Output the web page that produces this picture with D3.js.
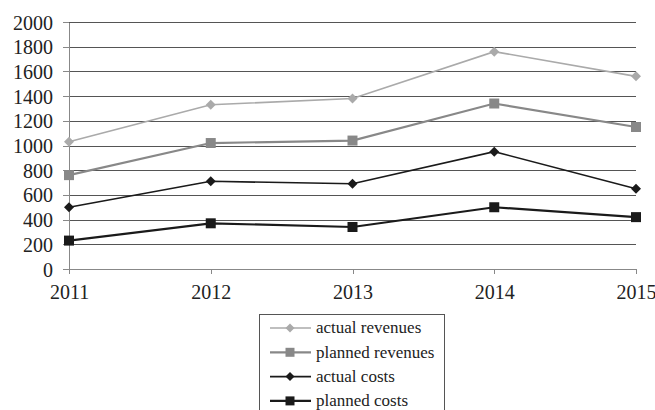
<!DOCTYPE html>
<meta charset="utf-8">
<style>
body { margin: 0; background: #fff; }
svg text { font-family: "Liberation Serif", "DejaVu Serif", serif; fill: #222; }
.grid line { stroke: #555; stroke-width: 1px; shape-rendering: crispEdges; }
.grid path { stroke-width: 0; }
.axis path, .axis line { stroke: #888; stroke-width: 1px; shape-rendering: crispEdges; }
.axis text { font-size: 20px; }
.series { fill: none; }
</style>
<body>
<script src="https://d3js.org/d3.v7.min.js"></script>
<script>
// data
var years = [2011, 2012, 2013, 2014, 2015];
var actualRevenues  = [1030, 1330, 1380, 1760, 1560];
var plannedRevenues = [760, 1020, 1040, 1340, 1150];
var actualCosts     = [500, 710, 690, 950, 650];
var plannedCosts    = [230, 370, 340, 500, 420];
var yTicks = [0, 200, 400, 600, 800, 1000, 1200, 1400, 1600, 1800, 2000];

var series = [
  {name: "actual revenues",  values: actualRevenues,  color: "#aaaaaa", width: 1.6, shape: "diamond", size: 9},
  {name: "planned revenues", values: plannedRevenues, color: "#888888", width: 2.2, shape: "square",  size: 10},
  {name: "actual costs",     values: actualCosts,     color: "#1a1a1a", width: 1.6, shape: "diamond", size: 9},
  {name: "planned costs",    values: plannedCosts,    color: "#1a1a1a", width: 2.2, shape: "square",  size: 10}
];

var W = 655, H = 410;
var margin = {top: 22, right: 19, bottom: 141, left: 69},
    width = W - margin.left - margin.right,
    height = H - margin.top - margin.bottom;

var x = d3.scalePoint().domain(years).range([0, width]);
var y = d3.scaleLinear().domain([0, 2000]).range([height, 0]);

var svg = d3.select("body").append("svg")
    .attr("width", W).attr("height", H)
  .append("g")
    .attr("transform", "translate(" + margin.left + "," + margin.top + ")");

// horizontal gridlines
svg.append("g")
    .attr("class", "grid")
    .call(d3.axisLeft(y).tickValues(yTicks).tickSize(-width).tickFormat(""));

// y axis
svg.append("g")
    .attr("class", "axis")
    .call(d3.axisLeft(y).tickValues(yTicks).tickFormat(d3.format("d"))
        .tickSize(6).tickSizeOuter(0).tickPadding(10))
  .selectAll("text").attr("dy", "0.35em");

// x axis
svg.append("g")
    .attr("class", "axis")
    .attr("transform", "translate(0," + height + ")")
    .call(d3.axisBottom(x).tickFormat(d3.format("d")).tickSize(5).tickSizeOuter(0).tickPadding(8))
  .selectAll("text").attr("dy", "0.85em");

function symbolPath(shape, size) {
  if (shape === "diamond") {
    var r = size / 2 + 0.5;
    return "M0," + (-r) + "L" + r + ",0L0," + r + "L" + (-r) + ",0Z";
  }
  var h = size / 2;
  return "M" + (-h) + "," + (-h) + "H" + h + "V" + h + "H" + (-h) + "Z";
}

var line = d3.line()
    .x(function(d, i) { return x(years[i]); })
    .y(function(d) { return y(d); });

series.forEach(function(s) {
  svg.append("path")
      .attr("class", "series")
      .attr("d", line(s.values))
      .attr("stroke", s.color)
      .attr("stroke-width", s.width);

  svg.selectAll(null)
      .data(s.values)
    .enter().append("path")
      .attr("d", symbolPath(s.shape, s.size))
      .attr("transform", function(d, i) { return "translate(" + x(years[i]) + "," + y(d) + ")"; })
      .attr("fill", s.color);
});

// legend
var legend = d3.select("svg").append("g")
    .attr("transform", "translate(259,314)");

legend.append("rect")
    .attr("x", 0.5).attr("y", 0.5)
    .attr("width", 185).attr("height", 110)
    .attr("fill", "#fff")
    .attr("stroke", "#555");

var item = legend.selectAll("g.item")
    .data(series)
  .enter().append("g")
    .attr("class", "item")
    .attr("transform", function(d, i) { return "translate(0," + (14 + i * 24.3) + ")"; });

item.append("line")
    .attr("x1", 11).attr("x2", 52)
    .attr("stroke", function(d) { return d.color; })
    .attr("stroke-width", function(d) { return d.width; });

item.append("path")
    .attr("d", function(d) { return symbolPath(d.shape, d.size - 1); })
    .attr("transform", "translate(31,0)")
    .attr("fill", function(d) { return d.color; });

item.append("text")
    .attr("x", 57)
    .attr("dy", "0.32em")
    .style("font-size", "17px")
    .text(function(d) { return d.name; });
</script>
</body>
